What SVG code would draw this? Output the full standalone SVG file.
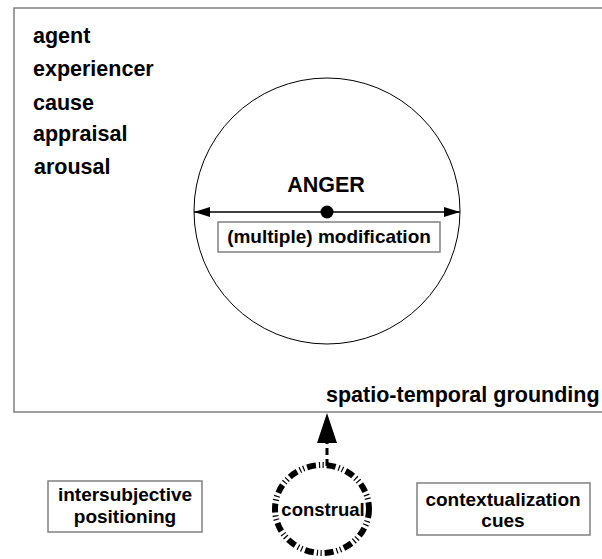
<svg xmlns="http://www.w3.org/2000/svg" width="602" height="559" viewBox="0 0 602 559">
<style>
.t{font-family:"Liberation Sans",Arial,sans-serif;font-weight:bold;fill:#000}
.box{fill:#fff;stroke:#808080;stroke-width:1.5}
</style>
<defs>
<marker id="ah" viewBox="0 0 16 10" refX="16" refY="5" markerWidth="16" markerHeight="10" markerUnits="userSpaceOnUse" orient="auto-start-reverse">
<path d="M0,0 L16,5 L0,10 Z" fill="#000"/>
</marker>
</defs>
<rect width="602" height="559" fill="#fff"/>
<g id="frame">
<rect x="14" y="8" width="600" height="404" fill="none" stroke="#808080" stroke-width="1.5"/>
<text class="t" x="33" y="43" font-size="21.5">agent</text>
<text class="t" x="33" y="76" font-size="21.5">experiencer</text>
<text class="t" x="33" y="110" font-size="21.5">cause</text>
<text class="t" x="33" y="141" font-size="21.5">appraisal</text>
<text class="t" x="34" y="174" font-size="21.5">arousal</text>
<text class="t" x="326" y="402" font-size="21.5">spatio-temporal grounding</text>
</g>
<g id="anger">
<circle cx="327" cy="211" r="133" fill="none" stroke="#000" stroke-width="1"/>
<text class="t" x="326" y="192" font-size="21.5" text-anchor="middle">ANGER</text>
</g>
<g id="modification">
<rect class="box" x="218" y="222" width="222" height="30"/>
<text class="t" x="329" y="243" font-size="19" text-anchor="middle">(multiple) modification</text>
</g>
<g id="intersubjective">
<rect class="box" x="48" y="481" width="154" height="51"/>
<text class="t" x="125" y="501" font-size="19" text-anchor="middle">intersubjective</text>
<text class="t" x="125" y="523" font-size="19" text-anchor="middle">positioning</text>
</g>
<g id="contextualization">
<rect class="box" x="417" y="483" width="173" height="52"/>
<text class="t" x="503" y="506" font-size="19" text-anchor="middle">contextualization</text>
<text class="t" x="503" y="527" font-size="19" text-anchor="middle">cues</text>
</g>
<g id="construal">
<ellipse cx="322" cy="509" rx="47" ry="44" fill="none" stroke="#000" stroke-width="6" stroke-dasharray="9 3 1.2 2.5 1.2 3"/>
<text class="t" x="323" y="516" font-size="18.5" text-anchor="middle">construal</text>
</g>
<g id="connectors">
<line x1="194" y1="212" x2="460" y2="212" stroke="#000" stroke-width="1.5" marker-start="url(#ah)" marker-end="url(#ah)"/>
<circle cx="327" cy="212" r="6.5" fill="#000"/>
<line x1="327" y1="466" x2="327" y2="442" stroke="#000" stroke-width="3" stroke-dasharray="7 4"/>
<path d="M327,413 L337,443 L317,443 Z" fill="#000"/>
</g>
</svg>
